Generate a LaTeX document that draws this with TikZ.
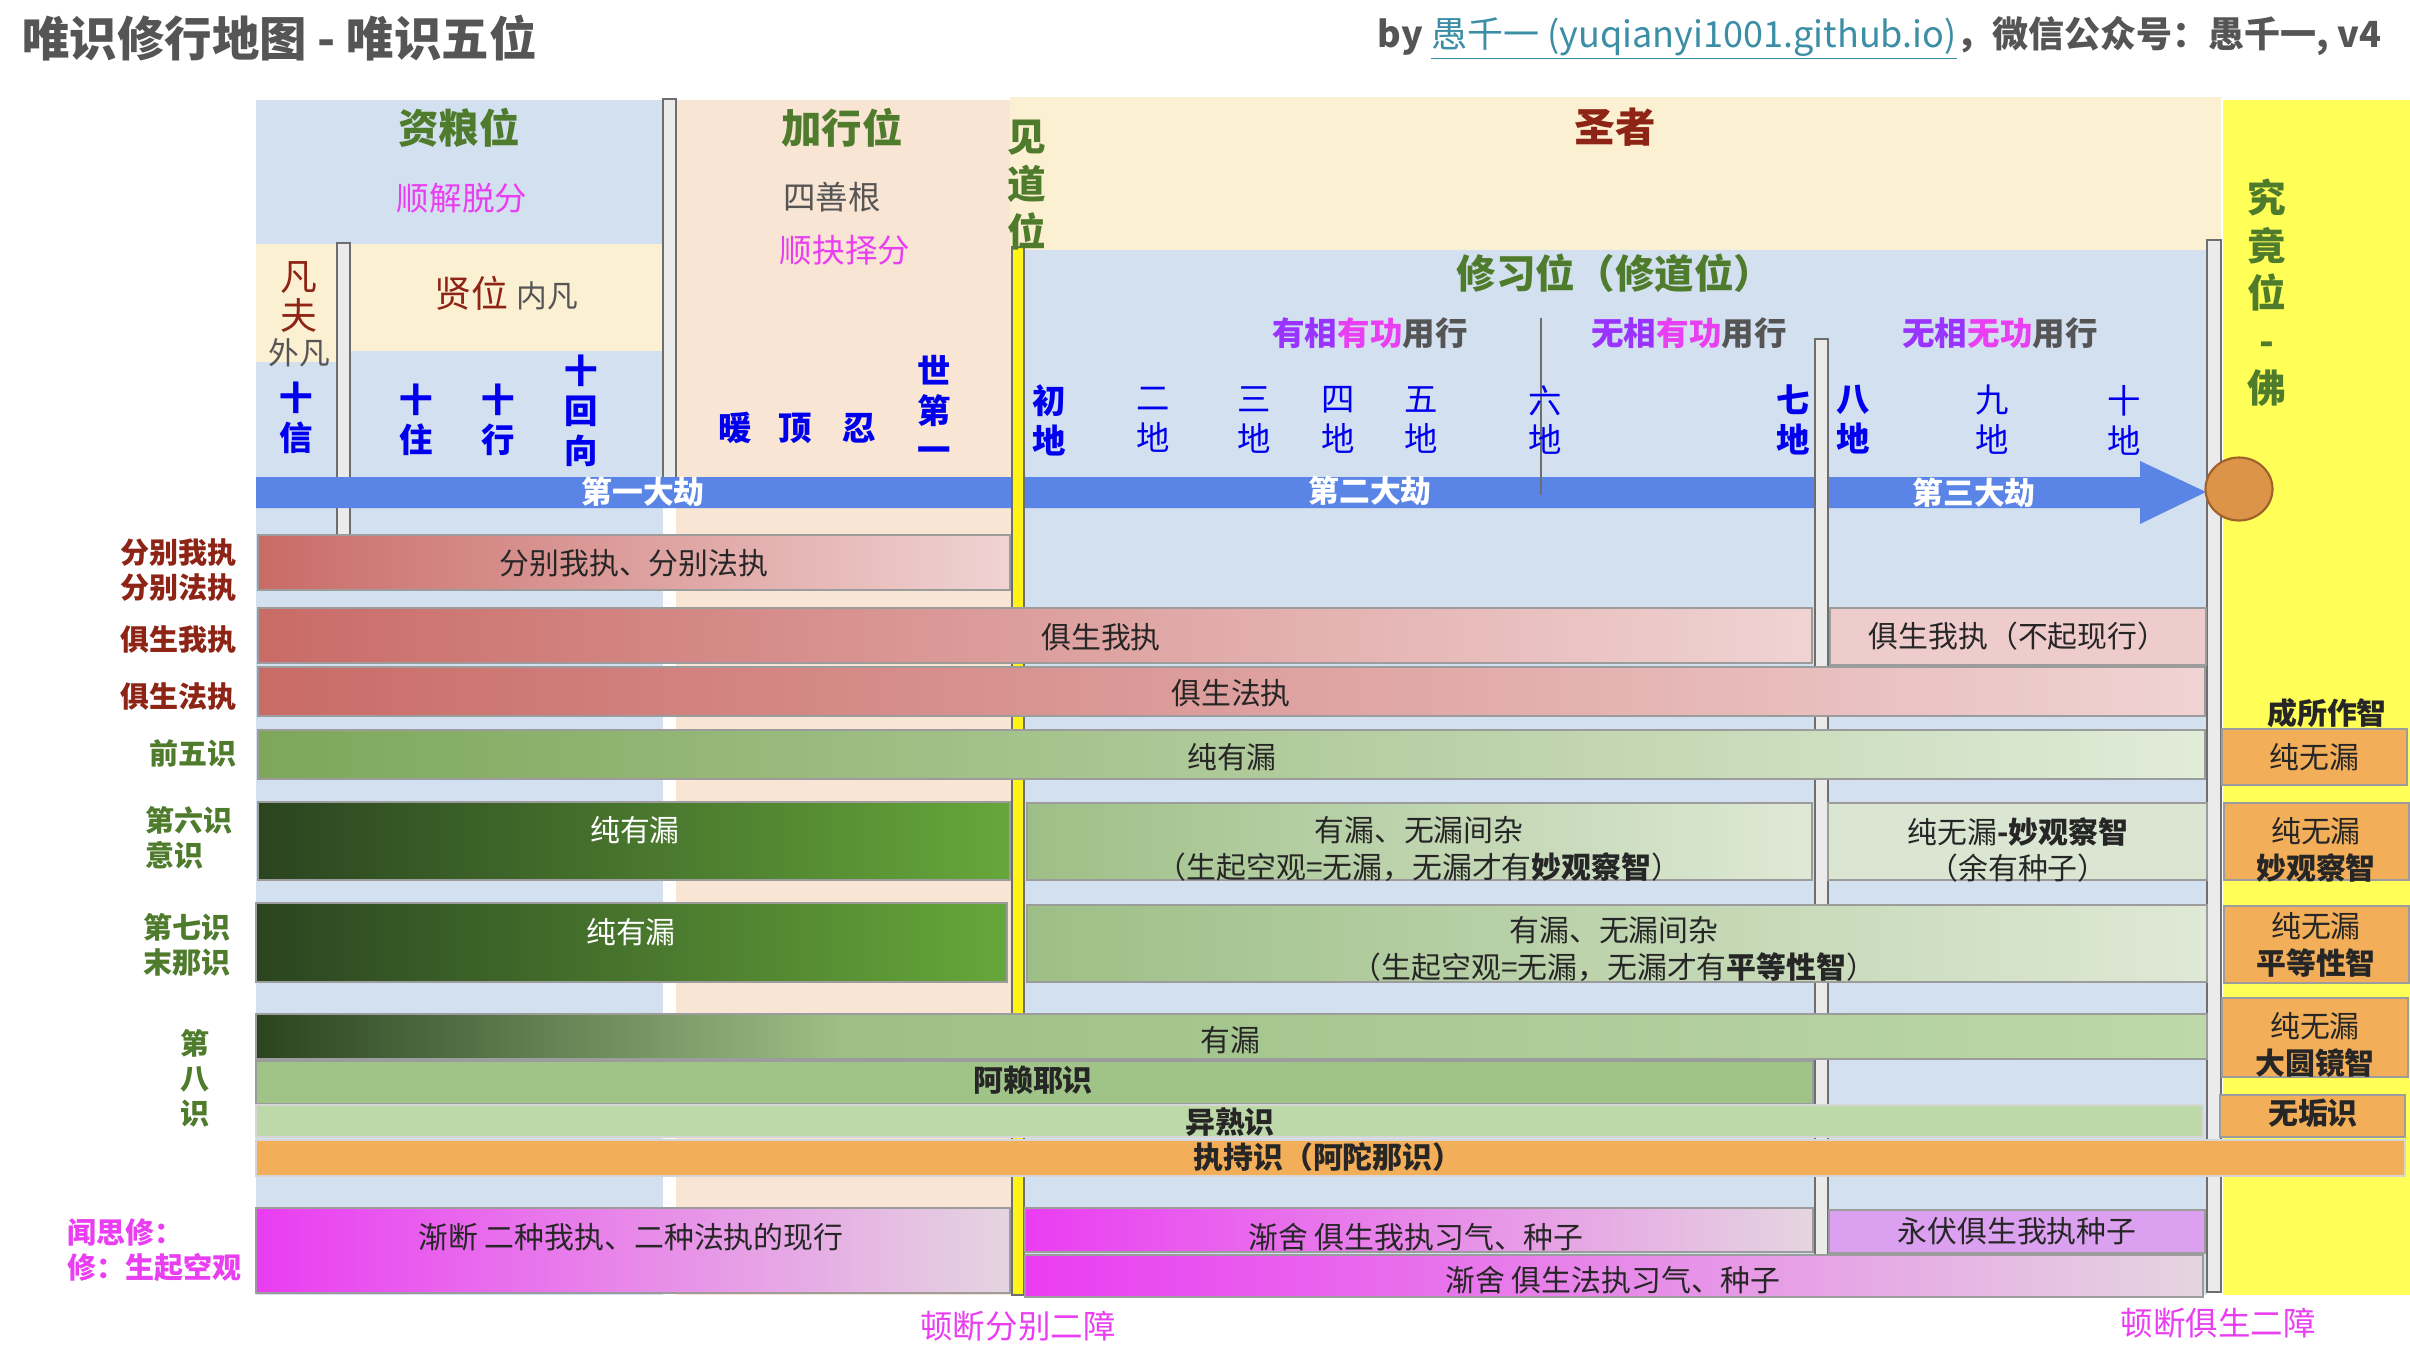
\documentclass[tikz,border=0pt]{standalone}
\usepackage{fontspec}
\setmainfont{Noto Sans CJK SC}
\usetikzlibrary{positioning, fit, calc, shapes.geometric}

\definecolor{cRegBlue}{HTML}{D3E0EF}
\definecolor{cRegPeach}{HTML}{F8E5D3}
\definecolor{cRegCream}{HTML}{FCF0D2}
\definecolor{cRegYellow}{HTML}{FFFF58}
\definecolor{cArrow}{HTML}{5A85E6}
\definecolor{cDivFill}{HTML}{EBEBEB}
\definecolor{cDivLine}{HTML}{6E6E6E}
\definecolor{cBorder}{HTML}{9C9C9C}
\definecolor{cBorderLt}{HTML}{D6D6D6}
\definecolor{cGreenT}{HTML}{4F7B2C}
\definecolor{cRedT}{HTML}{8E2415}
\definecolor{cMag}{HTML}{EA3EF2}
\definecolor{cPurple}{HTML}{9933FF}
\definecolor{cBlueT}{HTML}{0000EE}
\definecolor{cGrayT}{HTML}{555555}
\definecolor{cLink}{HTML}{3B8EA5}
\definecolor{cRedL}{HTML}{C96B67}
\definecolor{cRedR}{HTML}{F0D3D3}
\definecolor{cRedFlat}{HTML}{EFCCCC}
\definecolor{cG5L}{HTML}{7DA75A}
\definecolor{cG5R}{HTML}{E1ECD9}
\definecolor{cDkL}{HTML}{2A4420}
\definecolor{cDkR}{HTML}{66A73A}
\definecolor{cMixL}{HTML}{9DBF86}
\definecolor{cMixR}{HTML}{DFE9D6}
\definecolor{cPale}{HTML}{DAE5D2}
\definecolor{cAlaya}{HTML}{A0C387}
\definecolor{cYishu}{HTML}{BDD8A9}
\definecolor{cOrange}{HTML}{F2AE58}
\definecolor{cMagL}{HTML}{EA3CF2}
\definecolor{cMagR}{HTML}{E5D5E0}
\definecolor{cLilac}{HTML}{DCA0F0}
\definecolor{cBall}{HTML}{DB9448}
\definecolor{cBallLine}{HTML}{A0602A}

\pgfdeclarehorizontalshading{alayashade}{100bp}{color(0bp)=(cDkL); color(25bp)=(cDkL);
  color(40bp)=(cMixL); color(75bp)=(cYishu); color(100bp)=(cYishu)}

\newcommand{\fsz}[2]{\fontsize{#1pt}{#2pt}\selectfont}

\begin{document}
\begin{tikzpicture}[
  x=0.2mm, y=-0.2mm,
  divbar/.style={fill=cDivFill, draw=cDivLine, line width=0.8pt},
  bar/.style={draw=cBorder, line width=1.4pt, inner sep=0pt},
  redbar/.style={bar, left color=cRedL, right color=cRedR},
  grnbar/.style={bar, left color=cG5L, right color=cG5R},
  darkbar/.style={bar, left color=cDkL, right color=cDkR},
  mixbar/.style={bar, left color=cMixL, right color=cMixR},
  magbar/.style={bar, left color=cMagL, right color=cMagR},
  orgbox/.style={bar, fill=cOrange},
  bartext/.style={font=\fsz{17}{21}, text=black!85, align=center, inner sep=0pt},
  whitetext/.style={bartext, text=white},
  kalpa/.style={font=\fsz{17.5}{21}\bfseries, text=white, inner sep=0pt},
  heading/.style={font=\fsz{23}{27}\bfseries, text=#1, align=center, inner sep=0pt},
  subhead/.style={font=\fsz{18.5}{22}, text=#1, align=center, inner sep=0pt},
  stage/.style={font=\fsz{19}{22.7}\bfseries, text=cBlueT, align=center, inner sep=0pt},
  stagelt/.style={stage, font=\fsz{19}{22.7}},
  sidelabel/.style={font=\fsz{16.5}{20}\bfseries, text=#1, align=right, anchor=east, inner sep=0pt},
]
\useasboundingbox (0,0) rectangle (2410,1350);
\fill[white] (0,0) rectangle (2410,1350);

% title line
\node[anchor=west, font=\fsz{27}{31}\bfseries, text=cGrayT, inner sep=0pt] (title)
  at (22,38) {唯识修行地图 - 唯识五位};
\node[anchor=east, font=\fsz{20.5}{24}\bfseries, text=cGrayT, inner sep=0pt] (byline)
  at (2382,38) {by {\mdseries\color{cLink}\underline{愚千一 (yuqianyi1001.github.io)}}，微信公众号：愚千一, v4};

% regions
\fill[cRegBlue] (256,100) rectangle (663,1295);
\fill[cRegPeach] (676,100) rectangle (1013,1295);
\fill[cRegCream] (1010,97) rectangle (2221,250);
\fill[cRegBlue] (1025,250) rectangle (2207,1295);
\fill[cRegCream] (256,244) rectangle (337,362);
\fill[cRegCream] (350,244) rectangle (663,351);
\fill[cRegYellow] (2223,100) rectangle (2410,1295);

% dividers under the arrow
\filldraw[divbar] (337,243) rectangle (350,535);
\filldraw[divbar] (663,99) rectangle (676,478);

% three kalpas
\fill[cArrow] (256,477) -- (2140,477) -- (2140,461) -- (2206,492)
  -- (2140,524) -- (2140,508) -- (256,508) -- cycle;

% dividers over the arrow
\filldraw[fill=yellow!90!white, draw=cDivLine, line width=0.8pt] (1012,247) rectangle (1024,1295);
\filldraw[divbar] (1815,339) rectangle (1828,1295);
\filldraw[divbar] (2207,240) rectangle (2221,1292);
\draw[cDivLine, line width=1.2pt] (1541,318) -- (1541,495);

\node[ellipse, draw=cBallLine, fill=cBall, line width=1.2pt, inner sep=0pt,
  minimum width=13.4mm, minimum height=12.6mm] (buddha) at (2239,489) {};

\node[kalpa] (k1) at (643,492) {第一大劫};
\node[kalpa] (k2) at (1370,491) {第二大劫};
\node[kalpa] (k3) at (1974,493) {第三大劫};

% headings
\node[heading=cGreenT] (tziliang) at (459,128) {资粮位};
\node[subhead=cMag] (tshunjie) at (462,198) {顺解脱分};
\node[font=\fsz{21}{22.7}, text=cRedT, align=center, inner sep=0pt] (tfanfu) at (299,297) {凡\\夫};
\node[subhead=cGrayT, font=\fsz{17.5}{20}] (twaifan) at (299,353) {外凡};
\node[font=\fsz{21}{25}, text=cRedT, inner sep=0pt] (txian) at (506,293)
  {贤位 {\fsz{17.5}{20}\color{cGrayT}内凡}};
\node[heading=cGreenT] (tjiaxing) at (842,128) {加行位};
\node[subhead=cGrayT] (tsishan) at (832,197) {四善根};
\node[subhead=cMag] (tshunjue) at (845,250) {顺抉择分};
\node[heading=cGreenT, font=\fsz{22}{27}\bfseries] (tjiandao) at (1027,185) {见\\道\\位};
\node[heading=cRedT] (tshengzhe) at (1615,127) {圣者};
\node[heading=cGreenT, font=\fsz{22.5}{27}\bfseries] (txiuxi) at (1615,273) {修习位（修道位）};
\node[heading=cGreenT, font=\fsz{22}{27}\bfseries] (tjiujing) at (2267,293) {究\\竟\\位\\-\\佛};

\node[subhead=cGrayT, font=\fsz{18.5}{22}\bfseries] (tyx1) at (1370,333)
  {\textcolor{cPurple}{有相}\textcolor{cMag}{有功}用行};
\node[subhead=cGrayT, font=\fsz{18.5}{22}\bfseries] (tyx2) at (1689,333)
  {\textcolor{cPurple}{无相}\textcolor{cMag}{有功}用行};
\node[subhead=cGrayT, font=\fsz{18.5}{22}\bfseries] (tyx3) at (2000,333)
  {\textcolor{cPurple}{无相}\textcolor{cMag}{无功}用行};

% stages
\node[stage] (s1) at (296,418) {十\\信};
\node[stage] (s2) at (416,420) {十\\住};
\node[stage] (s3) at (498,420) {十\\行};
\node[stage] (s4) at (581,411) {十\\回\\向};
\node[stage] (s5) at (735,428) {暖};
\node[stage] (s6) at (795,428) {顶};
\node[stage] (s7) at (859,428) {忍};
\node[stage] (s8) at (934,409) {世\\第\\一};
\node[stage] (d1) at (1049,420) {初\\地};
\node[stagelt] (d2) at (1153,420) {二\\地};
\node[stagelt] (d3) at (1254,420) {三\\地};
\node[stagelt] (d4) at (1338,420) {四\\地};
\node[stagelt] (d5) at (1421,420) {五\\地};
\node[stagelt] (d6) at (1545,420) {六\\地};
\node[stage] (d7) at (1793,420) {七\\地};
\node[stage] (d8) at (1853,420) {八\\地};
\node[stagelt] (d9) at (1992,420) {九\\地};
\node[stagelt] (d10) at (2124,420) {十\\地};

% side labels
\node[sidelabel=cRedT] (lfenbie) at (237,570) {分别我执\\分别法执};
\node[sidelabel=cRedT] (lwozhi) at (237,640) {俱生我执};
\node[sidelabel=cRedT] (lfazhi) at (237,697) {俱生法执};
\node[sidelabel=cGreenT] (lwushi) at (237,753) {前五识};
\node[sidelabel=cGreenT, anchor=west, align=left] (lliushi) at (145,838) {第六识\\意识};
\node[sidelabel=cGreenT, anchor=west, align=left] (lqishi) at (143,945) {第七识\\末那识};
\node[sidelabel=cGreenT, anchor=center, align=center] (lbashi) at (195,1078) {第\\八\\识};
\node[sidelabel=cMag, anchor=west, align=left] (lwensi) at (67,1250) {闻思修：\\修：生起空观};

% grasping bars
\node[redbar, fit={(258,535) (1010,590)}] (bfenbie) {};
\node[bartext] (tfenbie) at (634,563) {分别我执、分别法执};
\node[redbar, fit={(258,608) (1812,663)}] (bwozhi) {};
\node[bartext] (twozhi) at (1101,637) {俱生我执};
\node[bar, fill=cRedFlat, fit={(1830,608) (2206,665)}] (bwozhi8) {};
\node[bartext] (twozhi8) at (bwozhi8.center) {俱生我执（不起现行）};
\node[redbar, fit={(258,667) (2205,716)}] (bfazhi) {};
\node[bartext] (tfazhi) at (1231,693) {俱生法执};

% first five
\node[grnbar, fit={(258,730) (2205,779)}] (bwushi) {};
\node[bartext] (twushi) at (1232,757) {纯有漏};
\node[orgbox, fit={(2222,729) (2407,785)}] (pwushi) {};
\node[bartext] (twuship) at (pwushi.center) {纯无漏};
\node[bartext, font=\fsz{17}{21}\bfseries] (tchengsuo) at (2327,713) {成所作智};

% sixth
\node[darkbar, fit={(258,802) (1010,880)}] (bliu1) {};
\node[whitetext] (tliu1) at (635,830) {纯有漏};
\node[mixbar, fit={(1027,803) (1812,880)}] (bliu2) {};
\node[bartext] (tliu2) at (1419,849) {有漏、无漏间杂\\（生起空观=无漏，无漏才有\textbf{妙观察智}）};
\node[bar, fill=cPale, fit={(1828,803) (2207,880)}] (bliu3) {};
\node[bartext] (tliu3) at (2018,850) {纯无漏\textbf{-妙观察智}\\（余有种子）};
\node[orgbox, fit={(2224,803) (2409,880)}] (pliu) {};
\node[bartext] (tliup) at (2316,850) {纯无漏\\\textbf{妙观察智}};

% seventh
\node[darkbar, fit={(256,903) (1007,982)}] (bqi1) {};
\node[whitetext] (tqi1) at (631,932) {纯有漏};
\node[mixbar, fit={(1027,905) (2207,982)}] (bqi2) {};
\node[bartext] (tqi2) at (1614,949) {有漏、无漏间杂\\（生起空观=无漏，无漏才有\textbf{平等性智}）};
\node[orgbox, fit={(2224,906) (2409,983)}] (pqi) {};
\node[bartext] (tqip) at (2316,945) {纯无漏\\\textbf{平等性智}};

% eighth
\node[bar, shading=alayashade, fit={(256,1014) (2207,1059)}] (bba1) {};
\node[bartext] (tba1) at (1230,1040) {有漏};
\node[orgbox, fit={(2222,998) (2408,1077)}] (pba) {};
\node[bartext] (tbap) at (2315,1045) {纯无漏\\\textbf{大圆镜智}};
\node[bar, fill=cAlaya, fit={(256,1061) (1813,1104)}] (balaya) {};
\node[bartext, font=\fsz{17}{21}\bfseries] (talaya) at (1033,1080) {阿赖耶识};
\node[bar, draw=cBorderLt, fill=cYishu, fit={(256,1105) (2203,1137)}] (byishu) {};
\node[bartext, font=\fsz{17}{21}\bfseries] (tyishu) at (1230,1122) {异熟识};
\node[orgbox, fit={(2220,1095) (2405,1137)}] (bwugou) {};
\node[bartext, font=\fsz{17}{21}\bfseries] (twugou) at (2313,1113) {无垢识};
\node[orgbox, draw=cBorderLt, fit={(256,1140) (2405,1176)}] (bzhichi) {};
\node[bartext, font=\fsz{17}{21}\bfseries] (tzhichi) at (1328,1157) {执持识（阿陀那识）};

% practice
\node[magbar, fit={(256,1208) (1010,1293)}] (bduan) {};
\node[bartext] (tduan) at (631,1237) {渐断 二种我执、二种法执的现行};
\node[magbar, fit={(1025,1208) (1813,1252)}] (bshe1) {};
\node[bartext] (tshe1) at (1416,1237) {渐舍 俱生我执习气、种子};
\node[bar, fill=cLilac, fit={(1829,1210) (2205,1253)}] (bfu) {};
\node[bartext] (tfu) at (bfu.center) {永伏俱生我执种子};
\node[magbar, fit={(1025,1255) (2203,1297)}] (bshe2) {};
\node[bartext] (tshe2) at (1613,1280) {渐舍 俱生法执习气、种子};

\node[subhead=cMag] (tdun1) at (1018,1326) {顿断分别二障};
\node[subhead=cMag] (tdun2) at (2218,1323) {顿断俱生二障};

\end{tikzpicture}
\end{document}
